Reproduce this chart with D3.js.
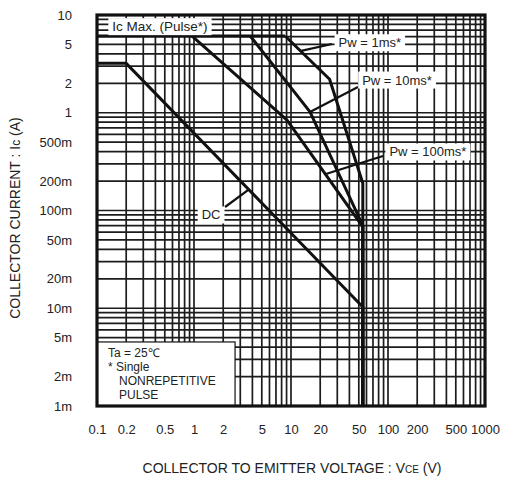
<!DOCTYPE html>
<html><head><meta charset="utf-8">
<script src="https://cdn.jsdelivr.net/npm/d3@7"></script>
<style>
html,body{margin:0;padding:0;background:#fff;}
svg{display:block;font-family:"Liberation Sans",Arial,sans-serif;}
</style></head>
<body><svg id="c" width="506" height="486"></svg>
<script>
// ---- data ----
const xTickValues = [0.1,0.2,0.5,1,2,5,10,20,50,100,200,500,1000];
const xTickLabels = ["0.1","0.2","0.5","1","2","5","10","20","50","100","200","500","1000"];
const yTickValues = [0.001,0.002,0.005,0.01,0.02,0.05,0.1,0.2,0.5,1,2,5,10];
const yTickLabels = ["1m","2m","5m","10m","20m","50m","100m","200m","500m","1","2","5","10"];

// SOA curves [VCE (V), IC (A)]
const icMaxPulse = [[0.1,6.1],[8.7,6.1]];
const pw1ms   = [[8.7,6.1],[25,2.2],[55,0.19],[55,0.001]];
const pw10ms  = [[3.8,6.1],[15.7,1.02],[55,0.07],[55,0.001]];
const pw100ms = [[0.95,6.1],[9.1,0.84],[55,0.068],[55,0.001]];
const dcCurve = [[0.1,3.2],[0.2,3.2],[55,0.0103],[55,0.001]];

const curveLabels = ["Ic Max. (Pulse*)","Pw = 1ms*","Pw = 10ms*","Pw = 100ms*","DC"];
const conditionLines = ["Ta = 25\u2103","* Single","NONREPETITIVE","PULSE"];

// ---- layout ----
const M = {left:97, top:15, right:485, bottom:406};
const svg = d3.select("#c");
const x = d3.scaleLog().domain([0.1,1000]).range([M.left, M.right]);
const y = d3.scaleLog().domain([0.001,10]).range([M.bottom, M.top]);

// grid (every 1..9 per decade)
const gridX = [], gridY = [];
for (let e=-1;e<3;e++) for (let k=1;k<10;k++) gridX.push(k*Math.pow(10,e));
for (let e=-3;e<1;e++) for (let k=1;k<10;k++) gridY.push(k*Math.pow(10,e));
const g = svg.append("g");
g.selectAll("line.gx").data(gridX).join("line").attr("class","gx")
  .attr("x1",d=>x(d)).attr("x2",d=>x(d)).attr("y1",M.top).attr("y2",M.bottom)
  .attr("stroke","#1c1c1c").attr("stroke-width",1.7);
g.selectAll("line.gy").data(gridY).join("line").attr("class","gy")
  .attr("y1",d=>y(d)).attr("y2",d=>y(d)).attr("x1",M.left).attr("x2",M.right)
  .attr("stroke","#1c1c1c").attr("stroke-width",1.7);

// curves
const line = d3.line().x(d=>x(d[0])).y(d=>y(d[1]));
[icMaxPulse,pw1ms,pw10ms,pw100ms,dcCurve].forEach(c=>{
  svg.append("path").attr("d",line(c)).attr("fill","none")
    .attr("stroke","#111").attr("stroke-width",3).attr("stroke-linejoin","round");
});

// annotation helper: label box centred at data point, pointer from/to data points
function label(text, cx, cy, fs, ptrFrom, ptrTo){
  if (ptrFrom) svg.append("line").attr("x1",x(ptrFrom[0])).attr("y1",y(ptrFrom[1]))
     .attr("x2",x(ptrTo[0])).attr("y2",y(ptrTo[1])).attr("stroke","#111").attr("stroke-width",2.2);
  const gg = svg.append("g");
  const r = gg.append("rect").attr("fill","#fff");
  const t = gg.append("text").attr("x",x(cx)).attr("y",y(cy)).attr("text-anchor","middle")
    .attr("dominant-baseline","central").attr("font-size",fs).attr("fill","#222").text(text);
  const b = t.node().getBBox();
  r.attr("x",b.x-4).attr("y",b.y-1).attr("width",b.width+8).attr("height",b.height+2);
}
label(curveLabels[0], 0.446, 7.6, 13.5, null, null);
label(curveLabels[1], 65, 5.2, 13, [26.5,5.05], [12.7,4.3]);
label(curveLabels[2], 124, 2.16, 13, [49,1.83], [15.7,1.02]);
label(curveLabels[3], 258, 0.397, 13, [88.8,0.361], [22.9,0.236]);
label(curveLabels[4], 1.5, 0.090, 13, [2.09,0.1086], [3.6,0.162]);

// conditions box
const bx1 = x(2.65), by0 = y(0.00452);
svg.append("rect").attr("x",M.left).attr("y",by0).attr("width",bx1-M.left).attr("height",M.bottom-by0)
  .attr("fill","#fff").attr("stroke","#111").attr("stroke-width",1.2);
const condX = [M.left+11, M.left+11, M.left+22, M.left+22];
conditionLines.forEach((s,i)=>{
  svg.append("text").attr("x",condX[i]).attr("y",by0+11.5+i*13.8).attr("dominant-baseline","central")
    .attr("font-size",12).attr("fill","#222").text(s);
});

// frame
svg.append("rect").attr("x",M.left).attr("y",M.top).attr("width",M.right-M.left).attr("height",M.bottom-M.top)
  .attr("fill","none").attr("stroke","#111").attr("stroke-width",3.2);

// axes
const xAxis = d3.axisBottom(x).tickValues(xTickValues).tickFormat((d,i)=>xTickLabels[i]).tickSize(0).tickPadding(0);
const ax = svg.append("g").attr("transform",`translate(0,${M.bottom+19})`).call(xAxis);
ax.select(".domain").remove();
ax.selectAll("text").attr("font-size",13).attr("fill","#222").attr("font-family","Liberation Sans, Arial, sans-serif");

const yAxis = d3.axisLeft(y).tickValues(yTickValues).tickFormat((d,i)=>yTickLabels[i]).tickSize(0).tickPadding(0);
const ay = svg.append("g").attr("transform",`translate(${M.left-25},0)`).call(yAxis);
ay.select(".domain").remove();
ay.selectAll("text").attr("font-size",13).attr("fill","#222").attr("font-family","Liberation Sans, Arial, sans-serif");

// titles
const xt = svg.append("text").attr("x",292).attr("y",473).attr("text-anchor","middle")
  .attr("font-size",14).attr("fill","#222");
xt.append("tspan").text("COLLECTOR TO EMITTER VOLTAGE : V");
xt.append("tspan").attr("font-size",10).text("CE");
xt.append("tspan").text(" (V)");

const yt = svg.append("text").attr("transform","translate(20,218) rotate(-90)").attr("text-anchor","middle")
  .attr("font-size",14).attr("fill","#222");
yt.append("tspan").text("COLLECTOR CURRENT : I");
yt.append("tspan").attr("font-size",12).text("c");
yt.append("tspan").text(" (A)");
</script></body></html>
